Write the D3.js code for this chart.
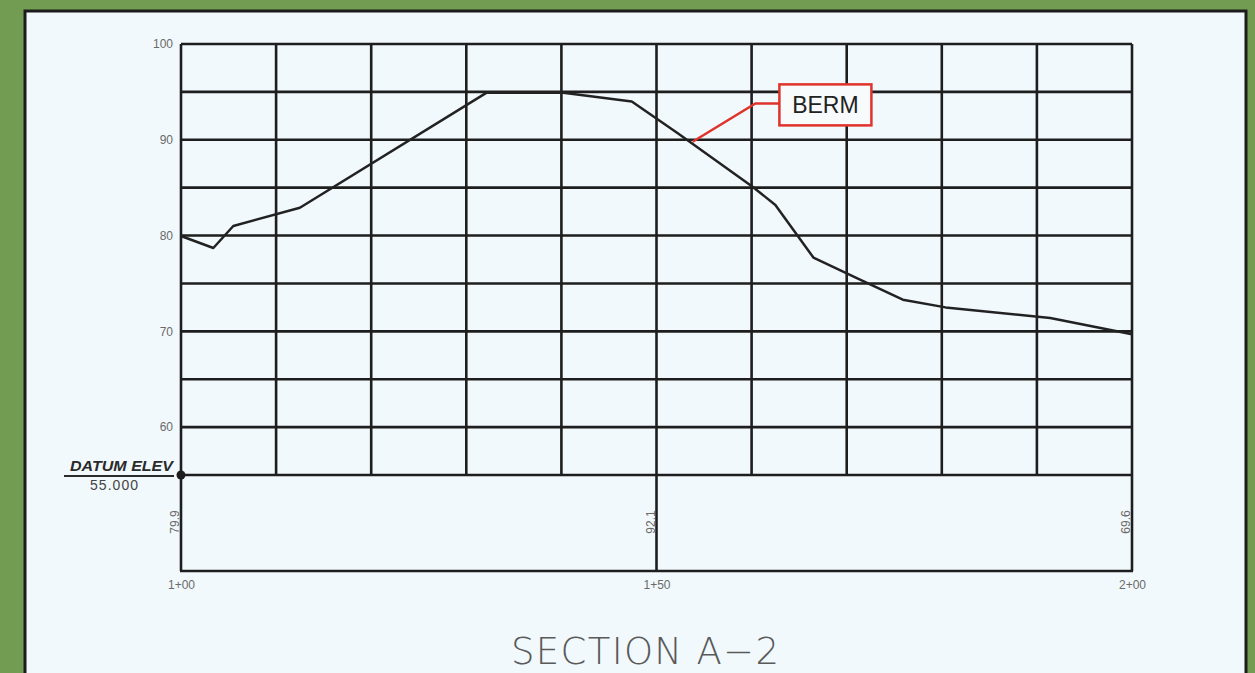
<!DOCTYPE html>
<html>
<head>
<meta charset="utf-8">
<script src="https://d3js.org/d3.v7.min.js"></script>
<style>
body, html {
  margin: 0;
  padding: 0;
  background: #729c52;
  font-family: "DejaVu Sans", sans-serif;
}
.grid line {
  stroke: #1e1e1e;
  stroke-width: 2.6;
}
.tick text {
  fill: #6a6a6a;
  font-size: 12px;
  font-family: "Liberation Sans", sans-serif;
}
.profile {
  fill: none;
  stroke: #222;
  stroke-width: 2.5;
  stroke-linejoin: round;
}
</style>
</head>
<body>
<div id="chart"></div>
<script>

// stations (ft) and ground elevations along section A-2
var stations   = [100, 103.4, 105.5, 112.5, 132.1, 140.2, 147.4, 152.2, 160.1, 162.5, 166.5, 171.4, 175.9, 180.4, 191.4, 200];
var elevations = [79.95, 78.7, 81.0, 82.9, 94.9, 94.9, 94.0, 90.7, 85.1, 83.2, 77.7, 75.4, 73.3, 72.5, 71.4, 69.7];

var gridStations = [100, 110, 120, 130, 140, 150, 160, 170, 180, 190, 200];
var gridElevs    = [55, 60, 65, 70, 75, 80, 85, 90, 95, 100];
var elevTicks    = [60, 70, 80, 90, 100];

var labelStations  = [100, 150, 200];
var stationLabels  = ["1+00", "1+50", "2+00"];
var stationElevs   = ["79.9", "92.1", "69.6"];

var datum = 55;
var datumLabel = "55.000";

var berm = {station: 153.8, elev: 89.8, elbowStation: 160.4, elbowElev: 93.8, text: "BERM"};

var width = 1255, height = 673;

var svg = d3.select('#chart').append('svg')
  .attr('width', width)
  .attr('height', height);

// sheet of paper
svg.append('rect')
  .attr('x', 25).attr('y', 11)
  .attr('width', 1221).attr('height', 670)
  .attr('fill', '#f1f9fc')
  .attr('stroke', '#1c1c1c')
  .attr('stroke-width', 3);

var x = d3.scaleLinear().domain([100, 200]).range([181, 1132]);
var y = d3.scaleLinear().domain([55, 100]).range([475, 44]);
var boxBottom = 571;

var grid = svg.append('g').attr('class', 'grid');

// horizontal grid lines
grid.selectAll('line.h')
  .data(gridElevs)
  .enter().append('line')
  .attr('class', 'h')
  .attr('x1', x(100)).attr('x2', x(200))
  .attr('y1', d => y(d)).attr('y2', d => y(d));

// vertical grid lines (profile area)
grid.selectAll('line.v')
  .data(gridStations)
  .enter().append('line')
  .attr('class', 'v')
  .attr('x1', d => x(d)).attr('x2', d => x(d))
  .attr('y1', y(100)).attr('y2', y(datum));

// lower data box
grid.append('line')
  .attr('x1', x(100) - 1).attr('x2', x(200) + 1)
  .attr('y1', boxBottom).attr('y2', boxBottom);
grid.selectAll('line.b')
  .data(labelStations)
  .enter().append('line')
  .attr('class', 'b')
  .attr('x1', d => x(d)).attr('x2', d => x(d))
  .attr('y1', y(datum)).attr('y2', boxBottom);

// elevation axis labels
var yAxis = d3.axisLeft(y)
  .tickValues(elevTicks)
  .tickSize(0)
  .tickPadding(8);
svg.append('g')
  .attr('transform', 'translate(' + x(100) + ',0)')
  .call(yAxis)
  .call(g => g.select('.domain').remove());

// station axis labels
var xAxis = d3.axisBottom(x)
  .tickValues(labelStations)
  .tickFormat((d, i) => stationLabels[i])
  .tickSize(0)
  .tickPadding(9);
svg.append('g')
  .attr('transform', 'translate(0,' + boxBottom + ')')
  .call(xAxis)
  .call(g => g.select('.domain').remove());

// ground elevation at each labelled station, written up the line
svg.selectAll('text.selev')
  .data(labelStations)
  .enter().append('text')
  .attr('class', 'selev')
  .attr('transform', d => 'translate(' + (x(d) - 2) + ',522) rotate(-90)')
  .attr('text-anchor', 'middle')
  .attr('fill', '#6a6a6a')
  .style('font-size', '12px')
  .style('font-family', '"Liberation Sans", sans-serif')
  .text((d, i) => stationElevs[i]);

// ground profile
var line = d3.line()
  .x(d => x(d[0]))
  .y(d => y(d[1]));
svg.append('path')
  .datum(d3.zip(stations, elevations))
  .attr('class', 'profile')
  .attr('d', line);

// datum marker
svg.append('circle')
  .attr('cx', x(100)).attr('cy', y(datum))
  .attr('r', 4.5)
  .attr('fill', '#1e1e1e');
svg.append('text')
  .attr('x', 70).attr('y', y(datum) - 4)
  .attr('textLength', 103)
  .attr('lengthAdjust', 'spacingAndGlyphs')
  .attr('fill', '#2a2a2a')
  .style('font-size', '15px')
  .style('font-weight', 'bold')
  .style('font-style', 'italic')
  .style('font-family', '"Liberation Sans", sans-serif')
  .text('DATUM ELEV');
svg.append('line')
  .attr('x1', 64).attr('x2', 174)
  .attr('y1', y(datum) + 1).attr('y2', y(datum) + 1)
  .attr('stroke', '#2a2a2a')
  .attr('stroke-width', 2);
svg.append('text')
  .attr('x', 90).attr('y', y(datum) + 15)
  .attr('textLength', 48)
  .attr('fill', '#444')
  .style('font-size', '14px')
  .style('font-family', '"Liberation Sans", sans-serif')
  .text(datumLabel);

// berm callout
var bx = x(berm.elbowStation), by = y(berm.elbowElev);
svg.append('polyline')
  .attr('points', [[x(berm.station), y(berm.elev)], [bx, by], [bx + 24, by]].join(' '))
  .attr('fill', 'none')
  .attr('stroke', '#e0332b')
  .attr('stroke-width', 2.5);
svg.append('rect')
  .attr('x', bx + 24).attr('y', by - 19)
  .attr('width', 92).attr('height', 41)
  .attr('fill', '#f7fbfc')
  .attr('stroke', '#e0332b')
  .attr('stroke-width', 2.5);
svg.append('text')
  .attr('x', bx + 70).attr('y', by + 10)
  .attr('text-anchor', 'middle')
  .attr('fill', '#222')
  .style('font-size', '23px')
  .style('font-family', '"Liberation Sans", sans-serif')
  .text(berm.text);

// title
svg.append('text')
  .attr('x', 511).attr('y', 664)
  .attr('textLength', 268)
  .attr('lengthAdjust', 'spacing')
  .attr('fill', '#5a5a5a')
  .style('font-size', '37px')
  .style('font-weight', '200')
  .style('font-family', '"DejaVu Sans", sans-serif')
  .text('SECTION A\u22122');

</script>
</body>
</html>
